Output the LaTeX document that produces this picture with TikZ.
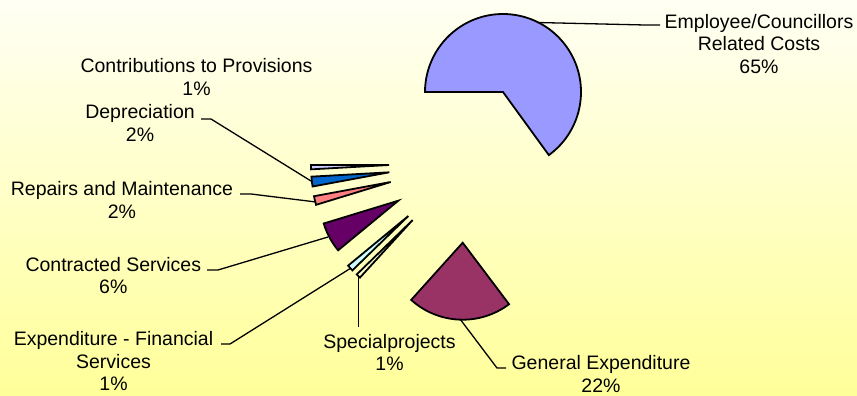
\documentclass[tikz,border=0pt]{standalone}
\usepackage{fontspec}
\setmainfont{Liberation Sans}
\definecolor{cEmp}{HTML}{9999FF}
\definecolor{cGen}{HTML}{993366}
\definecolor{cSpe}{HTML}{FFFFCC}
\definecolor{cExp}{HTML}{CCFFFF}
\definecolor{cCon}{HTML}{660066}
\definecolor{cRep}{HTML}{FF8080}
\definecolor{cDep}{HTML}{0066CC}
\definecolor{cPro}{HTML}{CCCCFF}
\definecolor{bgTop}{HTML}{FFFFF4}
\definecolor{bgBot}{HTML}{FFFF99}
\begin{document}
\begin{tikzpicture}[x=1pt,y=-1pt,
  slice/.style={draw=black,line width=1.8pt,line join=miter},
  leader/.style={draw=black,line width=1.3pt},
  lbl/.style={align=center,font=\fontsize{19.5}{22.5}\selectfont,inner sep=0pt}]
\shade[top color=bgTop,bottom color=bgBot] (0,0) rectangle (857,396);
\useasboundingbox (0,0) rectangle (857,396);
% slice apexes
\coordinate (aEmp) at (503,92);
\coordinate (aGen) at (462.7,242.7);
\coordinate (aSpe) at (412.7,220);
\coordinate (aExp) at (408.3,216);
\coordinate (aCon) at (398.3,200.7);
\coordinate (aRep) at (390.7,182);
\coordinate (aDep) at (389.3,172.3);
\coordinate (aPro) at (389,165);
% slices
\draw[slice,fill=cEmp] (aEmp) -- ++(54:78) arc (54:-180:78) -- cycle;
\draw[slice,fill=cGen] (aGen) -- ++(53:77) arc (53:132:77) -- cycle;
\draw[slice,fill=cSpe] (aSpe) -- ++(132.5:78) arc (132.5:135.8:78) -- cycle;
\draw[slice,fill=cExp] (aExp) -- ++(135.8:78) arc (135.8:140.5:78) -- cycle;
\draw[slice,fill=cCon] (aCon) -- ++(140.5:78) arc (140.5:163:78) -- cycle;
\draw[slice,fill=cRep] (aRep) -- ++(163:78) arc (163:169.5:78) -- cycle;
\draw[slice,fill=cDep] (aDep) -- ++(169.5:78) arc (169.5:176.8:78) -- cycle;
\draw[slice,fill=cPro] (aPro) -- ++(176.8:78) arc (176.8:180:78) -- cycle;
% labels
\node[lbl] (lEmp) at (759,44) {Employee/Councillors\\Related Costs\\65\%};
\node[lbl] (lPro) at (196.5,77) {Contributions to Provisions\\1\%};
\node[lbl] (lDep) at (140,123) {Depreciation\\2\%};
\node[lbl] (lRep) at (122,200) {Repairs and Maintenance\\2\%};
\node[lbl] (lCon) at (113.3,275.5) {Contracted Services\\6\%};
\node[lbl] (lExp) at (113.5,361) {Expenditure - Financial\\Services\\1\%};
\node[lbl] (lSpe) at (389.5,352.5) {Specialprojects\\1\%};
\node[lbl] (lGen) at (601,374) {General Expenditure\\22\%};
% leader end points
\coordinate (eEmp) at (537,22.5);
\coordinate (kEmp) at (660,25);
\coordinate (eDep) at (311,181);
\coordinate (kDep) at (201,119);
\coordinate (eRep) at (316,202);
\coordinate (kRep) at (240,194);
\coordinate (eCon) at (328,237);
\coordinate (kCon) at (207,270);
\coordinate (eExp) at (351,268);
\coordinate (kExp) at (221,344);
\coordinate (eSpe) at (358.5,277);
\coordinate (kSpe) at (358.5,327);
\coordinate (eGen) at (460,319);
\coordinate (kGen) at (506,368);
% leaders
\draw[leader] (kEmp) -- ++(-15,0) -- (eEmp);
\draw[leader] (kDep) -- ++(10,0) -- (eDep);
\draw[leader] (kRep) -- ++(11,0) -- (eRep);
\draw[leader] (kCon) -- ++(11,0) -- (eCon);
\draw[leader] (kExp) -- ++(9,0) -- (eExp);
\draw[leader] (eSpe) -- (kSpe);
\draw[leader] (kGen) -- ++(-9,0) -- (eGen);
\end{tikzpicture}
\end{document}
